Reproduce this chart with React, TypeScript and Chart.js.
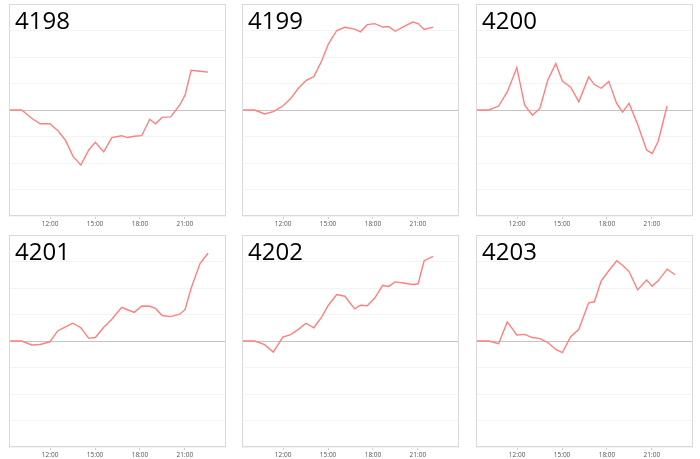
import React, { useEffect, useRef } from "react";
import { Chart, registerables } from "chart.js";

Chart.register(...registerables);

// shared sample times (hours of day)
const times = [9.25, 10.1, 10.76, 11.34, 11.98, 12.5, 13.02, 13.52, 14.05, 14.58, 15.02, 15.58, 16.12, 16.78, 17.16, 17.62, 18.12, 18.65, 19.04, 19.48, 20.05, 20.65, 21.02, 21.42, 22.02, 22.55];
const tickHours = [12, 15, 18, 21];
const titles = ["4198", "4199", "4200", "4201", "4202", "4203"];

const s4198 = [0, 0, -0.31, -0.52, -0.52, -0.77, -1.14, -1.74, -2.08, -1.51, -1.22, -1.58, -1.04, -0.97, -1.04, -0.99, -0.97, -0.35, -0.52, -0.28, -0.26, 0.18, 0.57, 1.5, 1.46, 1.43];
const s4199 = [0, 0, -0.15, -0.06, 0.15, 0.43, 0.82, 1.11, 1.26, 1.86, 2.49, 3.0, 3.12, 3.05, 2.95, 3.22, 3.26, 3.13, 3.15, 2.97, 3.15, 3.32, 3.26, 3.04, 3.13, null];
const s4200 = [0, 0, 0.15, 0.68, 1.6, 0.18, -0.2, 0.06, 1.13, 1.75, 1.09, 0.86, 0.31, 1.25, 0.96, 0.82, 1.08, 0.25, -0.08, 0.25, -0.54, -1.51, -1.64, -1.19, 0.15, null];
const s4201 = [0, 0, -0.15, -0.13, -0.03, 0.38, 0.53, 0.67, 0.5, 0.1, 0.13, 0.52, 0.82, 1.27, 1.18, 1.08, 1.32, 1.31, 1.23, 0.96, 0.92, 1.01, 1.19, 1.99, 2.93, 3.31];
const s4202 = [0, 0, -0.14, -0.42, 0.15, 0.24, 0.44, 0.67, 0.5, 0.91, 1.35, 1.75, 1.69, 1.21, 1.35, 1.33, 1.62, 2.1, 2.06, 2.23, 2.19, 2.13, 2.16, 3.03, 3.19, null];
const s4203 = [0, 0, -0.1, 0.72, 0.23, 0.25, 0.13, 0.09, -0.06, -0.32, -0.44, 0.16, 0.44, 1.44, 1.48, 2.27, 2.65, 3.03, 2.86, 2.62, 1.93, 2.3, 2.07, 2.27, 2.71, 2.5];

const seriesList = [s4198, s4199, s4200, s4201, s4202, s4203];

const colLefts = [9, 242, 476];
const rowTops = [4, 235];
const plotW = 217;
const plotH = 212;
const axisH = 18;

const framePlugin = {
  id: "frame",
  afterDraw(chart: any) {
    const { ctx, chartArea } = chart;
    ctx.save();
    ctx.strokeStyle = "#d9d9d9";
    ctx.lineWidth = 1;
    ctx.strokeRect(
      Math.round(chartArea.left) + 0.5,
      Math.round(chartArea.top) + 0.5,
      Math.round(chartArea.right - chartArea.left) - 1,
      Math.round(chartArea.bottom - chartArea.top) - 1
    );
    ctx.restore();
  },
};

const titlePlugin = {
  id: "panelTitle",
  afterDraw(chart: any, _args: any, opts: any) {
    const { ctx, chartArea } = chart;
    ctx.save();
    ctx.font = '24px "Open Sans"';
    ctx.fillStyle = "#000";
    ctx.textBaseline = "alphabetic";
    ctx.textAlign = "left";
    ctx.fillText(opts.text || "", chartArea.left + 6, chartArea.top + 25);
    ctx.restore();
  },
};

function Panel({ title, values }: { title: string; values: (number | null)[] }) {
  const ref = useRef<HTMLCanvasElement | null>(null);
  useEffect(() => {
    if (!ref.current) return;
    const data = times.map((t, i) => ({ x: t, y: values[i] }));
    const chart = new Chart(ref.current, {
      type: "line",
      data: {
        datasets: [
          {
            data: data as any,
            borderColor: "#ff7f7f",
            borderWidth: 1.4,
            pointRadius: 0,
            tension: 0,
            fill: false,
          },
        ],
      },
      options: {
        animation: false,
        responsive: true,
        maintainAspectRatio: false,
        layout: { padding: 0 },
        plugins: {
          legend: { display: false },
          tooltip: { enabled: false },
          panelTitle: { text: title },
        } as any,
        scales: {
          x: {
            type: "linear",
            min: times[0],
            max: 23.75,
            afterBuildTicks: (s: any) => {
              s.ticks = tickHours.map((v) => ({ value: v }));
            },
            afterFit: (s: any) => {
              s.height = axisH;
            },
            ticks: {
              autoSkip: false,
              maxRotation: 0,
              padding: 1,
              color: "#555",
              font: { family: '"Open Sans"', size: 6.5 },
              callback: (v: any) => `${v}:00`,
            },
            grid: {
              drawOnChartArea: false,
              drawTicks: true,
              tickLength: 3,
              color: "#cfcfcf",
            },
            border: { display: false },
          },
          y: {
            min: -4,
            max: 4,
            ticks: { display: false, stepSize: 1 },
            afterFit: (s: any) => {
              s.width = 0;
            },
            grid: {
              drawTicks: false,
              color: (c: any) => (c.tick && c.tick.value === 0 ? "#c4c4c4" : "#f3f3f3"),
              lineWidth: 1,
            },
            border: { display: false },
          },
        },
      },
      plugins: [framePlugin, titlePlugin],
    });
    return () => chart.destroy();
  }, [title, values]);
  return <canvas ref={ref} />;
}

export default function App() {
  return (
    <div style={{ position: "absolute", left: 0, top: 0, width: 700, height: 459, background: "#fff" }}>
      {titles.map((t, i) => {
        const col = i % 3;
        const row = Math.floor(i / 3);
        return (
          <div
            key={t}
            style={{
              position: "absolute",
              left: colLefts[col],
              top: rowTops[row],
              width: plotW,
              height: plotH + axisH,
            }}
          >
            <Panel title={t} values={seriesList[i]} />
          </div>
        );
      })}
    </div>
  );
}
